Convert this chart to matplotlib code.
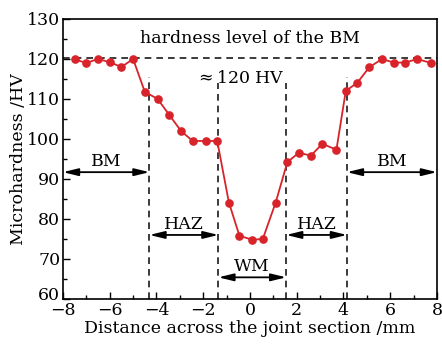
import matplotlib
matplotlib.use("Agg")
import matplotlib.pyplot as plt
import matplotlib.transforms as mtransforms
from matplotlib.ticker import MultipleLocator

# Data
distance = [-7.5, -7.0, -6.5, -6.0, -5.5, -5.0, -4.5, -3.95, -3.45, -2.95, -2.45, -1.9, -1.4,
            -0.9, -0.45, 0.1, 0.55, 1.1, 1.6, 2.1, 2.6, 3.1, 3.7, 4.1, 4.6, 5.1, 5.65,
            6.15, 6.65, 7.15, 7.75]
hardness = [119.9, 119.0, 120.0, 119.2, 118.0, 120.0, 111.8, 110.0, 106.0, 102.0, 99.5, 99.5, 99.5,
            84.1, 75.8, 74.8, 75.0, 84.1, 94.2, 96.6, 95.8, 98.8, 97.3, 112.0, 114.1, 117.9, 120.0,
            119.1, 119.1, 120.0, 119.0]
bm_level = 120.3
boundaries = [-4.3, -1.35, 1.55, 4.15]
boundary_tops = [115.5, 114.0, 114.0, 115.5]
zones = ["BM", "HAZ", "WM", "HAZ", "BM"]
zone_spans = [(-8, -4.3), (-4.3, -1.35), (-1.35, 1.55), (1.55, 4.15), (4.15, 8)]
zone_y = [91.7, 76.0, 65.4, 76.0, 91.7]
x_ticks = [-8, -6, -4, -2, 0, 2, 4, 6, 8]
x_tick_labels = ["\u22128", "\u22126", "\u22124", "\u22122", "0", "2", "4", "6", "8"]
y_ticks = [60, 70, 80, 90, 100, 110, 120, 130]

plt.rcParams['font.family'] = ['DejaVu Serif']
plt.rcParams['mathtext.fontset'] = 'dejavuserif'

fs = 12.5
fig = plt.figure(figsize=(4.42, 3.44), dpi=100)
ax = fig.add_axes([0.1425, 0.131, 0.846, 0.8138])

ax.plot(distance, hardness, color='#d8232a', lw=1.3, marker='o', ms=5.2, zorder=3)
ax.axhline(bm_level, color='#1a1a1a', lw=1.2, ls=(0, (4, 3)))
for xb, top in zip(boundaries, boundary_tops):
    ax.plot([xb, xb], [60, top], color='#1a1a1a', lw=1.2, ls=(0, (4, 3)))

ax.text(0.0, 125.0, "hardness level of the BM", ha='center', va='center', fontsize=fs)
ax.text(-0.45, 115.2, "$\\approx$120 HV", ha='center', va='center', fontsize=fs)

for name, (x0, x1), y in zip(zones, zone_spans, zone_y):
    ax.annotate("", xy=(x0, y), xytext=(x1, y),
                arrowprops=dict(arrowstyle='<|-|>,head_length=0.9,head_width=0.22',
                                color='black', lw=1.3, shrinkA=0, shrinkB=0))
    ax.text((x0 + x1) / 2, y + 2.6, name, ha='center', va='center', fontsize=fs)

ax.set_xticks(x_ticks)
ax.set_xticklabels(x_tick_labels)
ax.set_yticks(y_ticks)
ax.set_xlim(-8, 8)
ax.set_ylim(60, 130)
ax.xaxis.set_minor_locator(MultipleLocator(1))
ax.yaxis.set_minor_locator(MultipleLocator(5))
ax.tick_params(which='both', direction='in', labelsize=fs, width=1.0)
ax.tick_params(axis='x', pad=2)
ax.tick_params(axis='y', pad=2)
ax.tick_params(which='major', length=5)
ax.tick_params(which='minor', length=3)
for s in ax.spines.values():
    s.set_linewidth(1.2)

# nudge the lowest y tick label up a little so it does not collide with "−8"
lbl60 = ax.get_yticklabels()[0]
lbl60.set_transform(lbl60.get_transform() +
                    mtransforms.ScaledTranslation(0, 4 / 72, fig.dpi_scale_trans))

ax.set_xlabel("Distance across the joint section /mm", fontsize=fs, labelpad=1)
ax.set_ylabel("Microhardness /HV", fontsize=fs, labelpad=0)

fig.savefig("out.png", dpi=100)
